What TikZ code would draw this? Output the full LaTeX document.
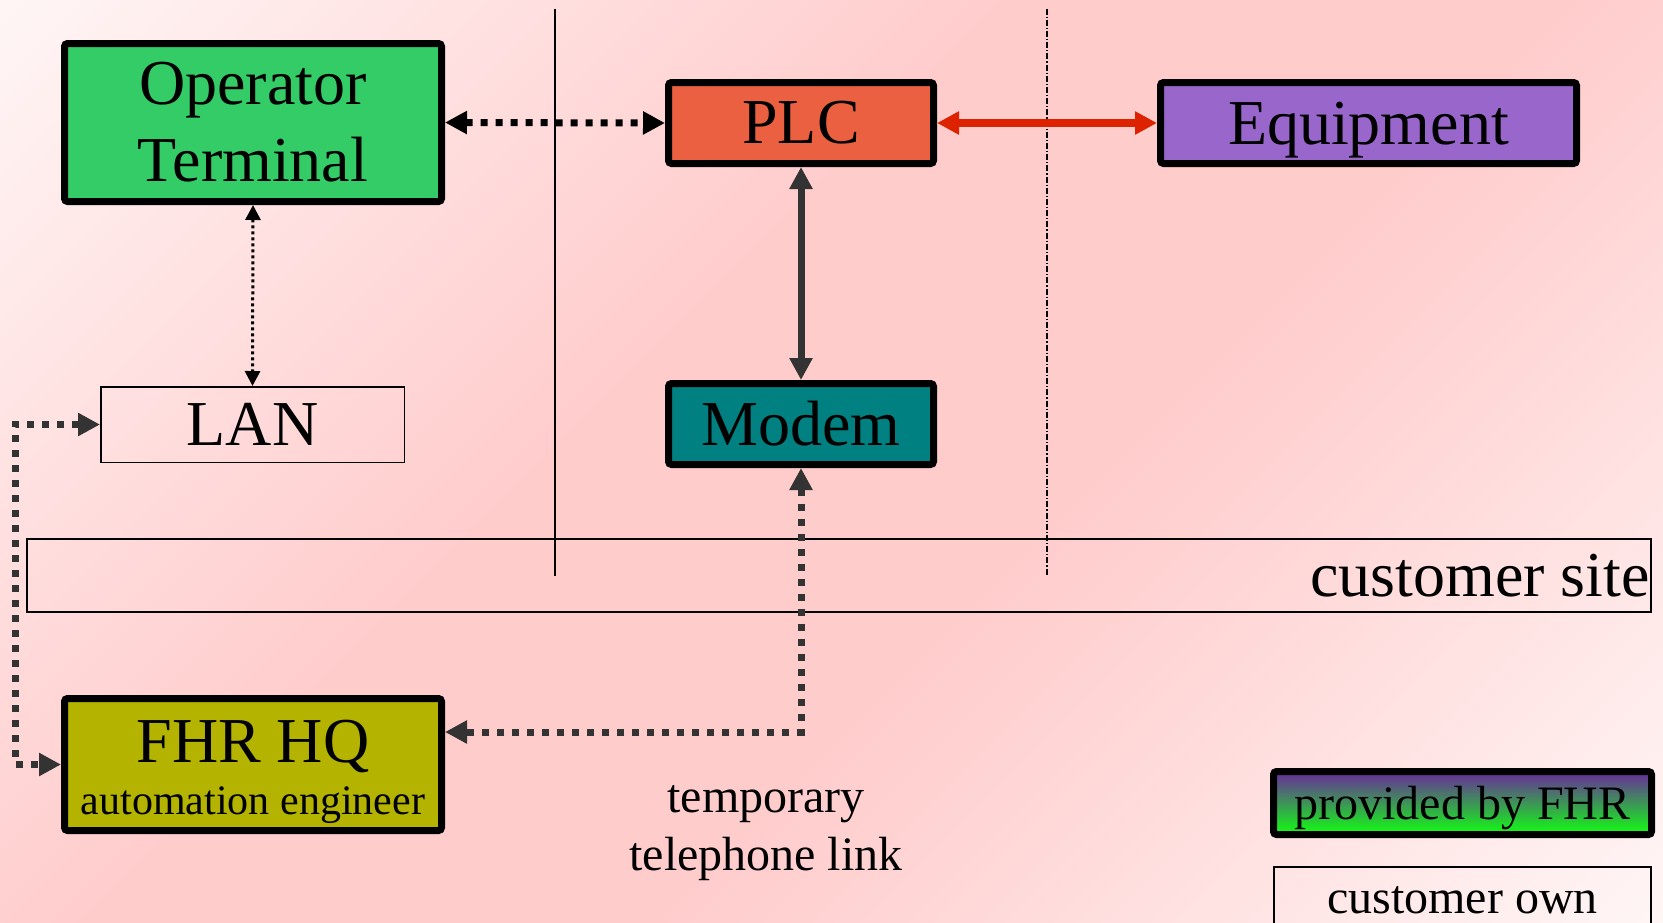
\documentclass[tikz,border=0pt]{standalone}
\usepackage{fontspec}
\setmainfont{Liberation Serif}
\usetikzlibrary{arrows.meta}

\definecolor{bgpink}{HTML}{FFCCCC}
\definecolor{bglight}{HTML}{FFF6F6}
\definecolor{termgreen}{HTML}{33CC66}
\definecolor{plcorange}{HTML}{EB6040}
\definecolor{equippurple}{HTML}{9966CC}
\definecolor{modemteal}{HTML}{008080}
\definecolor{hqolive}{HTML}{B3B300}
\definecolor{linkred}{HTML}{DD2200}
\definecolor{linkgray}{HTML}{333333}
\definecolor{fhrpurple}{HTML}{6A2A9E}
\definecolor{fhrgreen}{HTML}{11FF11}

% background profile across the diagonal (25bp..75bp spans the shaded path):
% light ends, pink band in the middle
\pgfdeclareverticalshading{bgshade}{100bp}{color(0bp)=(bglight); color(27bp)=(bglight);
  color(45bp)=(bgpink); color(55bp)=(bgpink); color(73bp)=(bglight); color(100bp)=(bglight)}

\newcommand{\diagbig}{\fontsize{32}{38.4}\selectfont}
\newcommand{\diagmid}{\fontsize{24}{29}\selectfont}
\newcommand{\diagsmall}{\fontsize{21}{25}\selectfont}

\tikzset{
  unit box/.style={draw=black, line width=3.5pt, rounded corners=1.5pt,
    inner sep=0pt, align=center, font=\diagbig},
  thin box/.style={draw=black, line width=0.75pt, inner sep=0pt, align=center},
  bigtips/.style={arrows={Triangle[length=11pt,width=11pt]-Triangle[length=11pt,width=11pt]}},
  smalltips/.style={arrows={Triangle[length=7.5pt,width=7.5pt]-Triangle[length=7.5pt,width=7.5pt]}},
  thickdots/.style={line width=3.5pt, dash pattern=on 3.5pt off 4pt},
  finedots/.style={line width=1.5pt, dash pattern=on 1.5pt off 1.5pt},
}

\begin{document}
\begin{tikzpicture}[x=0.5pt,y=-0.5pt]
\useasboundingbox (0,0) rectangle (1663,922);
\clip (0,0) rectangle (1663,922);

% background, shaded along the top-left to bottom-right diagonal
\begin{scope}[transform canvas={shift={(831.5,461)}, rotate=45}]
  \shade[shading=bgshade] (-500pt,-500pt) rectangle (500pt,500pt);
\end{scope}

% zone separators
\draw[line width=0.75pt] (555,8.5) -- (555,576);
\draw[line width=0.75pt, dash pattern=on 3pt off 1pt on 0.6pt off 1pt] (1047,8.5) -- (1047,576);

% site band
\node[thin box, line width=1pt, minimum width=812pt, minimum height=36.5pt,
      label={[anchor=east, font=\diagbig, inner sep=0pt, xshift=-1pt]east:customer site}] (site) at (839,575.5) {};

% components
\node[unit box, fill=termgreen, minimum width=188.5pt, minimum height=79pt] (ot) at (253,122.5) {Operator\\Terminal};
\node[unit box, fill=plcorange, minimum width=132.5pt, minimum height=40.5pt] (plc) at (801,123) {PLC};
\node[unit box, fill=equippurple, minimum width=208pt, minimum height=40.5pt, text depth=0pt] (equip) at (1368.5,123) {Equipment};
\node[unit box, fill=modemteal, minimum width=132.5pt, minimum height=40.5pt] (modem) at (801,424) {Modem};
\node[thin box, font=\diagbig, minimum width=151.75pt, minimum height=37.75pt] (lan) at (252.5,424.5) {LAN};
\node[unit box, fill=hqolive, minimum width=188.5pt, minimum height=66pt] (hq) at (253,764.5)
  {\rule{0pt}{28.5pt}FHR HQ\\[-12pt]{\diagsmall automation engineer}};

\node[font=\diagmid, align=center, inner sep=0pt] (tel) at (766,833) {temporary\\telephone link};

% legend
\node[unit box, font=\diagmid, top color=fhrpurple, bottom color=fhrgreen, text depth=0pt,
      minimum width=189pt, minimum height=31.5pt] (prov) at (1462.5,803) {provided by FHR};
\node[thin box, line width=1pt, font=\diagmid, minimum width=188.5pt, minimum height=33pt] (own) at (1462.5,900) {customer own};

% links
\draw[thickdots, black, bigtips] (ot.east) -- (plc.west);
\draw[line width=4pt, linkred, bigtips] (plc.east) -- (equip.west);
\draw[line width=3.5pt, linkgray, bigtips] (plc.south) -- (modem.north);
\draw[finedots, black, smalltips] (ot.south) -- (lan.north);
\draw[thickdots, linkgray, bigtips] (lan.west) -- ([xshift=-42.5pt]lan.west) |- (hq.west);
\draw[thickdots, linkgray, bigtips] (modem.south) |- ([yshift=16.25pt]hq.east);
\end{tikzpicture}
\end{document}
